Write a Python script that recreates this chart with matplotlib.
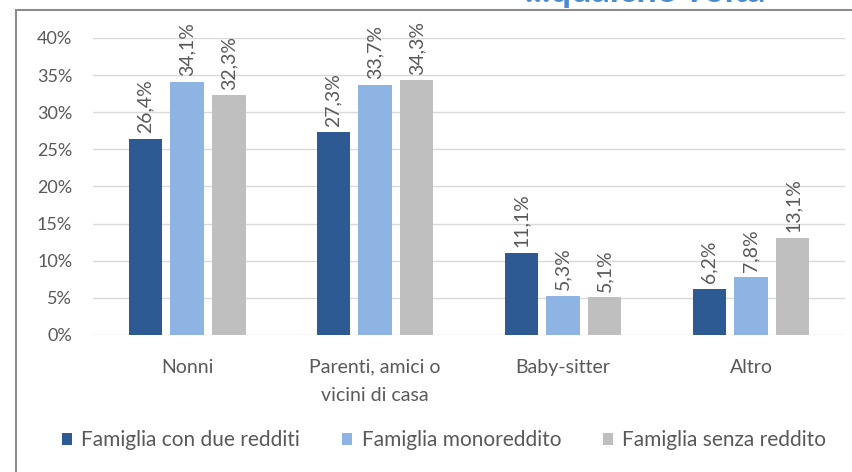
import numpy as np
import matplotlib.pyplot as plt
from matplotlib.patches import Rectangle

plt.rcParams['font.family'] = ['Lato', 'DejaVu Sans']

categories = ['Nonni', 'Parenti, amici o\nvicini di casa', 'Baby-sitter', 'Altro']
series_names = ['Famiglia con due redditi', 'Famiglia monoreddito', 'Famiglia senza reddito']
due_redditi = [26.4, 27.3, 11.1, 6.2]
monoreddito = [34.1, 33.7, 5.3, 7.8]
senza_reddito = [32.3, 34.3, 5.1, 13.1]
yticks = [0, 5, 10, 15, 20, 25, 30, 35, 40]

colors = ['#2E5A94', '#8DB4E2', '#BFBFBF']
text_col = '#595959'

fig = plt.figure(figsize=(8.52, 4.72), dpi=100)
ax = fig.add_axes([0.1092, 0.2903, 0.8826, 0.6292])

x = np.arange(len(categories))
width = 0.176
offset = 0.223
for i, (vals, name) in enumerate(zip([due_redditi, monoreddito, senza_reddito], series_names)):
    pos = x + (i - 1) * offset
    bars = ax.bar(pos, vals, width, color=colors[i], label=name, zorder=3)
    for b, v in zip(bars, vals):
        ax.annotate(f'{v:.1f}%'.replace('.', ','),
                    (b.get_x() + b.get_width() / 2, v),
                    xytext=(0, 4), textcoords='offset points',
                    rotation=90, ha='center', va='bottom',
                    fontsize=14, color=text_col, annotation_clip=False)

ax.set_xlim(-0.5, len(categories) - 0.5)
ax.set_ylim(0, 40)
ax.set_yticks(yticks)
ax.set_yticklabels([f'{t}%' for t in yticks], fontsize=13, color=text_col)
ax.set_xticks(x)
ax.set_xticklabels(categories, fontsize=14, color=text_col, linespacing=1.8)
ax.tick_params(axis='both', length=0)
ax.tick_params(axis='y', pad=15)
ax.tick_params(axis='x', pad=17)
ax.grid(axis='y', color='#D9D9D9', linewidth=1, zorder=0)
for s in ax.spines.values():
    s.set_visible(False)

handles, labels = ax.get_legend_handles_labels()
fig.legend(handles, labels, loc='center', bbox_to_anchor=(444 / 852, 1 - 440 / 472),
           ncol=3, frameon=False, fontsize=15, labelcolor=text_col,
           handlelength=0.5, handleheight=0.5, handletextpad=0.45, columnspacing=2.0)

# frame around the chart
fig.patches.append(Rectangle((16 / 852, -0.05), 1.0, 1 - 10 / 472 + 0.05,
                             transform=fig.transFigure, fill=False,
                             edgecolor='#8C8C8C', linewidth=1.5))

# heading cut off at the top edge
fig.text(765 / 852, 1 - 2 / 472, '...qualche volta', color='#4A8BD0',
         fontsize=26, fontweight='bold', ha='right', va='baseline')

fig.savefig('out.png', dpi=100)
